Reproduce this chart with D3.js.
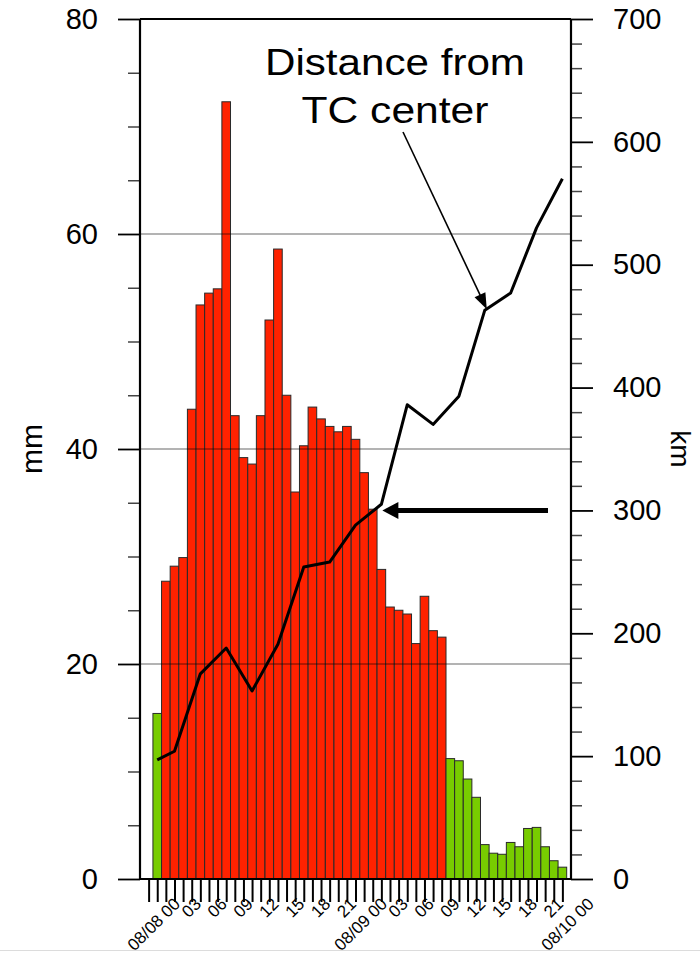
<!DOCTYPE html>
<html><head><meta charset="utf-8">
<script src="https://cdn.jsdelivr.net/npm/d3@7"></script>
<style>
body{margin:0;background:#fff}
svg{display:block}
text{font-family:"Liberation Sans",Arial,Helvetica,sans-serif;fill:#000}
</style>
</head><body>
<svg id="chart" width="700" height="957"></svg>
<script>
// ---- data ----
const hours = [0,1,2,3,4,5,6,7,8,9,10,11,12,13,14,15,16,17,18,19,20,21,22,23,
               24,25,26,27,28,29,30,31,32,33,34,35,36,37,38,39,40,41,42,43,44,45,46,47];
const rainfall = [15.4,27.7,29.1,29.9,43.7,53.4,54.5,54.9,72.3,43.1,39.2,38.6,
                  43.1,52.0,58.6,45.0,36.0,40.3,43.9,42.8,42.1,41.6,42.1,40.9,
                  37.8,34.4,28.8,25.3,25.0,24.65,21.9,26.3,23.1,22.5,11.2,11.0,
                  9.3,7.6,3.2,2.4,2.3,3.4,3.0,4.7,4.8,3.0,1.7,1.1];
const barGroup = ["g","r","r","r","r","r","r","r","r","r","r","r","r","r","r","r",
                  "r","r","r","r","r","r","r","r","r","r","r","r","r","r","r","r",
                  "r","r","g","g","g","g","g","g","g","g","g","g","g","g","g","g"];
const distHours = [0,2,5,8,11,14,17,20,23,26,29,32,35,38,41,44,47];
const distance  = [97,104,167,188,153,191,254,258,288,305,386,370,393,463,477,530,570];
const labelHours = [0,3,6,9,12,15,18,21,24,27,30,33,36,39,42,45,48];
const tickLabels = ["08/08 00","03","06","09","12","15","18","21","08/09 00",
                    "03","06","09","12","15","18","21","08/10 00"];
const mmTicks = [0,20,40,60,80];
const kmTicks = [0,100,200,300,400,500,600,700];
const gridMm = [20,40,60];

// ---- scales ----
const svg = d3.select("#chart");
const x = d3.scaleLinear().domain([-2,48]).range([140,571]);
const yL = d3.scaleLinear().domain([0,80]).range([879,19]);
const yR = d3.scaleLinear().domain([0,700]).range([879,19]);
const bw = x(1)-x(0);
const colors = {r:"#ff2200", g:"#78cc00"};

// bars
svg.append("g").selectAll("rect").data(hours).join("rect")
  .attr("x", h => x(h)-bw/2).attr("width", bw)
  .attr("y", (h,i) => yL(rainfall[i])).attr("height", (h,i) => yL(0)-yL(rainfall[i]))
  .attr("fill", (h,i) => colors[barGroup[i]])
  .attr("stroke","#2a2a2a").attr("stroke-width",1);

// gridlines (over bars)
svg.append("g").selectAll("line").data(gridMm).join("line")
  .attr("x1", x(-2)).attr("x2", x(48)).attr("y1", d=>yL(d)).attr("y2", d=>yL(d))
  .attr("stroke","#000").attr("stroke-opacity",0.4).attr("stroke-width",1.5);

// distance line
svg.append("path").datum(distHours)
  .attr("d", d3.line().x(h=>x(h)).y((h,i)=>yR(distance[i])))
  .attr("fill","none").attr("stroke","#000").attr("stroke-width",3)
  .attr("stroke-linejoin","round");

// ---- axes ----
const leftMinor = d3.range(0,81,5).filter(v=>v%20!==0);
svg.append("g").attr("transform",`translate(${x(-2)},0)`)
  .call(d3.axisLeft(yL).tickValues(leftMinor).tickSize(12).tickFormat("").tickSizeOuter(0))
  .call(g=>{g.select(".domain").remove(); g.selectAll("line").attr("stroke","#444").attr("stroke-width",1.5);});
svg.append("g").attr("transform",`translate(${x(-2)},0)`)
  .call(d3.axisLeft(yL).tickValues(mmTicks).tickSize(22).tickPadding(20).tickSizeOuter(0))
  .call(g=>{g.select(".domain").remove();
    g.selectAll("line").attr("stroke","#000").attr("stroke-width",1.8);
    g.selectAll("text").attr("font-size",29).attr("font-family","Liberation Sans, Arial, sans-serif").attr("fill","#000");});

const rightMinor = d3.range(0,701,20).filter(v=>v%100!==0);
svg.append("g").attr("transform",`translate(${x(48)},0)`)
  .call(d3.axisRight(yR).tickValues(rightMinor).tickSize(11).tickFormat("").tickSizeOuter(0))
  .call(g=>{g.select(".domain").remove(); g.selectAll("line").attr("stroke","#444").attr("stroke-width",1.5);});
svg.append("g").attr("transform",`translate(${x(48)},0)`)
  .call(d3.axisRight(yR).tickValues(kmTicks).tickSize(22).tickPadding(20).tickSizeOuter(0))
  .call(g=>{g.select(".domain").remove();
    g.selectAll("line").attr("stroke","#000").attr("stroke-width",1.8);
    g.selectAll("text").attr("font-size",29).attr("font-family","Liberation Sans, Arial, sans-serif").attr("fill","#000");});

svg.append("g").attr("transform",`translate(0,${yL(0)})`)
  .call(d3.axisBottom(x).tickValues(d3.range(-1,48)).tickSize(23).tickFormat("").tickSizeOuter(0))
  .call(g=>{g.select(".domain").remove(); g.selectAll("line").attr("stroke","#000").attr("stroke-width",2);});

// frame
const fr = svg.append("g").attr("stroke","#000").attr("stroke-width",2.2).attr("fill","none");
fr.append("line").attr("x1",x(-2)).attr("x2",x(-2)).attr("y1",yL(80)).attr("y2",yL(0));
fr.append("line").attr("x1",x(48)).attr("x2",x(48)).attr("y1",yL(80)).attr("y2",yL(0));
fr.append("line").attr("x1",x(-2)).attr("x2",x(48)).attr("y1",yL(80)).attr("y2",yL(80));
fr.append("line").attr("x1",x(-2)).attr("x2",x(48)).attr("y1",yL(0)).attr("y2",yL(0));

// x tick labels
svg.append("g").selectAll("text").data(labelHours).join("text")
  .attr("transform",(h,i)=>`translate(${x(h)+19+(tickLabels[i].length>2?5:0)},905) rotate(-45)`)
  .attr("text-anchor","end").attr("font-size",17)
  .text((h,i)=>tickLabels[i]);

// axis titles
svg.append("text").attr("transform","translate(42,449) rotate(-90)")
  .attr("text-anchor","middle").attr("font-size",30).text("mm");
svg.append("text").attr("transform","translate(671,449) rotate(90)")
  .attr("text-anchor","middle").attr("font-size",28).text("km");

// ---- annotations ----
svg.append("text").attr("x",395).attr("y",75).attr("text-anchor","middle")
  .attr("font-size",36).attr("textLength",260).attr("lengthAdjust","spacingAndGlyphs")
  .text("Distance from");
svg.append("text").attr("x",395).attr("y",123).attr("text-anchor","middle")
  .attr("font-size",36).attr("textLength",187).attr("lengthAdjust","spacingAndGlyphs")
  .text("TC center");

function arrow(x0,y0,x1,y1,lw,hl,hw){
  const a = Math.atan2(y1-y0,x1-x0);
  const bx = x1-hl*Math.cos(a), by = y1-hl*Math.sin(a);
  svg.append("line").attr("x1",x0).attr("y1",y0).attr("x2",bx+1*Math.cos(a)).attr("y2",by+1*Math.sin(a))
    .attr("stroke","#000").attr("stroke-width",lw);
  const px = -Math.sin(a)*hw/2, py = Math.cos(a)*hw/2;
  svg.append("path").attr("d",`M${x1},${y1}L${bx+px},${by+py}L${bx-px},${by-py}Z`).attr("fill","#000");
}
arrow(403,132, x(38)+2, yR(463)-1, 1.6, 16, 12);
arrow(548, yR(300), x(26)+1, yR(300), 5, 16, 17);

svg.append("line").attr("x1",0).attr("x2",700).attr("y1",950.5).attr("y2",950.5)
  .attr("stroke","#dcdcdc").attr("stroke-width",1);
</script>
</body></html>
